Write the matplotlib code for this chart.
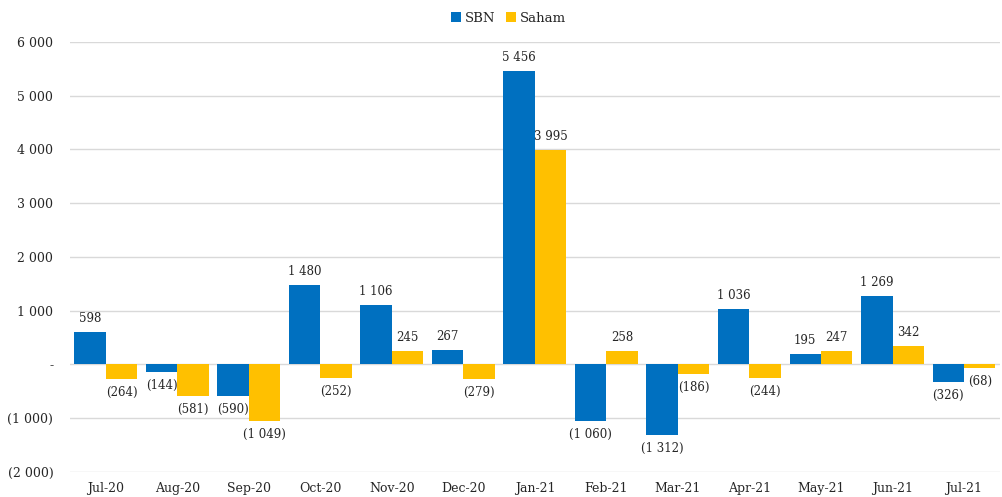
import numpy as np
import matplotlib.pyplot as plt
from matplotlib.ticker import FuncFormatter

months = ['Jul-20', 'Aug-20', 'Sep-20', 'Oct-20', 'Nov-20', 'Dec-20', 'Jan-21',
          'Feb-21', 'Mar-21', 'Apr-21', 'May-21', 'Jun-21', 'Jul-21']
sbn = [598, -144, -590, 1480, 1106, 267, 5456, -1060, -1312, 1036, 195, 1269, -326]
saham = [-264, -581, -1049, -252, 245, -279, 3995, 258, -186, -244, 247, 342, -68]

BLUE = '#0070C0'
GOLD = '#FFC000'

plt.rcParams['font.family'] = ['DejaVu Serif']
plt.rcParams['font.size'] = 8.5


def fmt(v, pos=None):
    """Excel-style accounting format: space thousands, negatives in parentheses"""
    v = int(round(v))
    if v == 0:
        return '-'
    s = f'{abs(v):,}'.replace(',', ' ')
    return f'({s})' if v < 0 else s


fig = plt.figure(figsize=(10.03, 4.97), dpi=100)
ax = fig.add_axes([0.0698, 0.0503, 0.927, 0.8652])

x = np.arange(len(months))
w = 0.44
b1 = ax.bar(x - w / 2, sbn, w, color=BLUE, label='SBN', zorder=3)
b2 = ax.bar(x + w / 2, saham, w, color=GOLD, label='Saham', zorder=3)

# data labels above positive bars, below negative ones
for bars, vals in ((b1, sbn), (b2, saham)):
    for bar, v in zip(bars, vals):
        cx = bar.get_x() + bar.get_width() / 2
        if v >= 0:
            ax.annotate(fmt(v), (cx, v), xytext=(0, 5), textcoords='offset points',
                        ha='center', va='bottom', color='#262626')
        else:
            ax.annotate(fmt(v), (cx, v), xytext=(0, -5), textcoords='offset points',
                        ha='center', va='top', color='#262626')

ax.set_xlim(-0.5, len(months) - 0.5)
ax.set_ylim(-2000, 6000)
ax.set_yticks(np.arange(-2000, 6001, 1000))
ax.yaxis.set_major_formatter(FuncFormatter(fmt))
ax.set_xticks(x)
ax.set_xticklabels(months)
ax.tick_params(length=0, labelsize=9, colors='#262626')
ax.tick_params(axis='y', pad=12)
ax.tick_params(axis='x', pad=7)
ax.grid(axis='y', color='#D9D9D9', linewidth=1, zorder=0)
for sp in ax.spines.values():
    sp.set_visible(False)

fig.legend(loc='upper center', bbox_to_anchor=(0.507, 1.0), ncol=2, frameon=False,
           handlelength=0.75, handleheight=0.75, handletextpad=0.3, columnspacing=0.8,
           fontsize=9.5, labelcolor='#262626')

fig.savefig('out.png', dpi=100)
